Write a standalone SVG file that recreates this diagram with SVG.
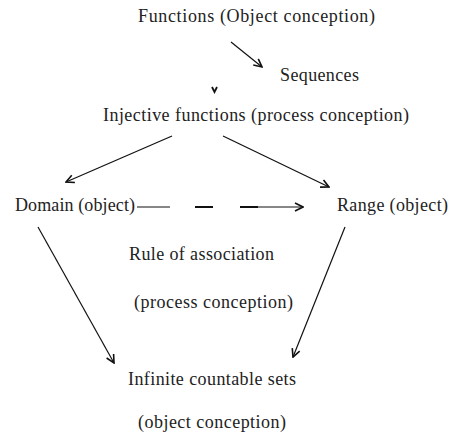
<svg xmlns="http://www.w3.org/2000/svg" width="449" height="434" viewBox="0 0 449 434">
<style>
text{font-family:'Liberation Serif','Times New Roman',Times,serif;font-size:18px;fill:#222}
.c{stroke:#111;stroke-width:1.2;fill:none}
</style>
<defs>
<marker id="ah" viewBox="0 0 10 10" refX="9" refY="5" markerWidth="10" markerHeight="10" markerUnits="userSpaceOnUse" orient="auto">
<path d="M1,1 L9,5 L1,9" fill="none" stroke="#111" stroke-width="1.6"/>
</marker>
</defs>
<rect width="449" height="434" fill="#fff"/>
<g id="connectors">
<line class="c" x1="231" y1="42" x2="262" y2="67" marker-end="url(#ah)"/>
<path d="M212,87 L214.5,92 L217,87" fill="none" stroke="#111" stroke-width="1.8"/>
<line class="c" x1="172" y1="136" x2="66" y2="182" marker-end="url(#ah)"/>
<line class="c" x1="223" y1="136" x2="329" y2="187" marker-end="url(#ah)"/>
<line class="c" x1="137" y1="207" x2="170" y2="207"/>
<line x1="195" y1="207" x2="213" y2="207" stroke="#111" stroke-width="2"/>
<line x1="240" y1="207" x2="258" y2="207" stroke="#111" stroke-width="2"/>
<line class="c" x1="258" y1="207" x2="303" y2="207" marker-end="url(#ah)"/>
<line class="c" x1="38" y1="227" x2="114" y2="363" marker-end="url(#ah)"/>
<line class="c" x1="345" y1="227" x2="293" y2="357" marker-end="url(#ah)"/>
</g>
<g id="functions"><text x="138" y="22" textLength="237" lengthAdjust="spacing">Functions (Object conception)</text></g>
<g id="sequences"><text x="280" y="81" textLength="79" lengthAdjust="spacing">Sequences</text></g>
<g id="injective"><text x="103" y="121" textLength="306" lengthAdjust="spacing">Injective functions (process conception)</text></g>
<g id="domain"><text x="15" y="211" textLength="120" lengthAdjust="spacing">Domain (object)</text></g>
<g id="range"><text x="337" y="211" textLength="111" lengthAdjust="spacing">Range (object)</text></g>
<g id="rule"><text x="129" y="260" textLength="145" lengthAdjust="spacing">Rule of association</text>
<text x="134" y="308" textLength="159" lengthAdjust="spacing">(process conception)</text></g>
<g id="infinite"><text x="128" y="385" textLength="168" lengthAdjust="spacing">Infinite countable sets</text>
<text x="138" y="428" textLength="148" lengthAdjust="spacing">(object conception)</text></g>
</svg>
